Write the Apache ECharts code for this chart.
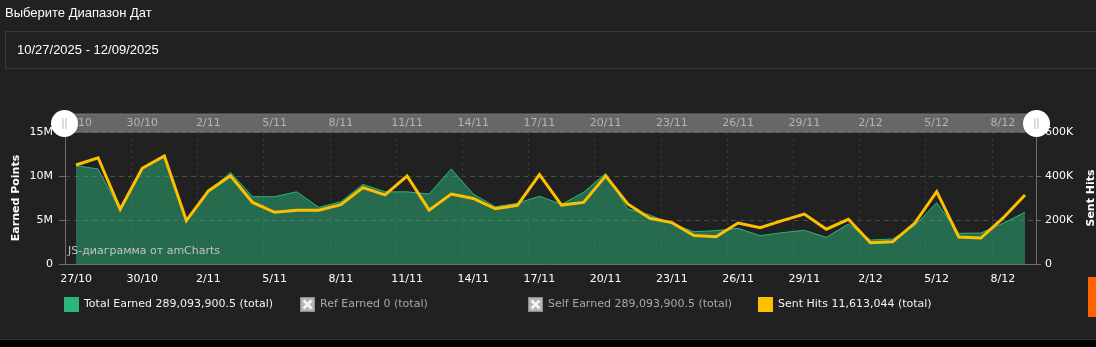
<!DOCTYPE html>
<html>
<head>
<meta charset="utf-8">
<script src="https://cdn.jsdelivr.net/npm/echarts@6/dist/echarts.min.js"></script>
<style>
  html, body { margin: 0; padding: 0; width: 1096px; height: 347px; overflow: hidden; background: #212121; }
  #chart { position: absolute; left: 0; top: 0; width: 1096px; height: 347px; }
  .picker-label { position: absolute; left: 5px; top: 4px; color: #fff; font: 13px "Liberation Sans", Arial, sans-serif; line-height: 17px; white-space: nowrap; }
  .picker-box { position: absolute; left: 5px; top: 31px; width: 1200px; height: 38px; box-sizing: border-box; border: 1px solid #3a3a3a; }
  .picker-value { position: absolute; left: 17px; top: 41px; color: #fff; font: 13px "Liberation Sans", Arial, sans-serif; line-height: 18px; white-space: nowrap; }
  .side-tab { position: absolute; left: 1088px; top: 277px; width: 8px; height: 40px; background: #ff6200; }
  .footer-bar { position: absolute; left: 0; top: 339px; width: 1096px; height: 8px; background: #000; border-top: 1px solid #2e2e2e; box-sizing: border-box; }
</style>
</head>
<body>
<div id="chart"></div>
<div class="picker-label">Выберите Диапазон Дат</div>
<div class="picker-box"></div>
<div class="picker-value">10/27/2025 - 12/09/2025</div>
<div class="side-tab"></div>
<div class="footer-bar"></div>
<script>
// Daily dates, 27 Oct – 9 Dec
const dates = [
  '27/10', '28/10', '29/10', '30/10', '31/10', '1/11', '2/11', '3/11', '4/11', '5/11',
  '6/11', '7/11', '8/11', '9/11', '10/11', '11/11', '12/11', '13/11', '14/11', '15/11',
  '16/11', '17/11', '18/11', '19/11', '20/11', '21/11', '22/11', '23/11', '24/11', '25/11',
  '26/11', '27/11', '28/11', '29/11', '30/11', '1/12', '2/12', '3/12', '4/12', '5/12',
  '6/12', '7/12', '8/12', '9/12'
];

// Earned points per day
const totalEarned = [
  11170000, 10800000, 6100000, 10800000, 12150000, 4800000, 8300000, 10400000, 7650000, 7650000,
  8200000, 6440000, 7080000, 9050000, 8200000, 8200000, 7950000, 10800000, 7950000, 6500000,
  6900000, 7700000, 6780000, 8140000, 10300000, 6250000, 5570000, 4550000, 3670000, 3790000,
  4050000, 3220000, 3560000, 3830000, 3030000, 4550000, 2730000, 2840000, 4360000, 6970000,
  3480000, 3520000, 4620000, 5870000
];
const refEarned = [
  0, 0, 0, 0, 0, 0, 0, 0, 0, 0, 0, 0, 0, 0, 0, 0, 0, 0, 0, 0, 0, 0,
  0, 0, 0, 0, 0, 0, 0, 0, 0, 0, 0, 0, 0, 0, 0, 0, 0, 0, 0, 0, 0, 0
];
const selfEarned = totalEarned;

// Hits sent per day
const sentHits = [
  450000, 483000, 249000, 435000, 491000, 197000, 332000, 401000, 280000, 235000,
  244000, 244000, 270000, 347000, 314000, 400000, 245000, 318000, 298000, 251000,
  267000, 406000, 268000, 280000, 401000, 273000, 208000, 188000, 129000, 124000,
  186000, 165000, 197000, 227000, 158000, 203000, 97000, 101000, 185000, 329000,
  123000, 118000, 208000, 314000
];

const seriesNames = ['Total Earned', 'Ref Earned', 'Self Earned', 'Sent Hits'];
const legendTotals = ['289,093,900.5', '0', '289,093,900.5', '11,613,044'];
const leftTicks = ['0', '5M', '10M', '15M'];
const rightTicks = ['0', '200K', '400K', '600K'];

const FONT = 'DejaVu Sans';
const GREEN = '#2bb57a';
const YELLOW = '#fdc000';
const AXIS_GREY = '#6e6e6e';

const crossIcon = 'image://data:image/svg+xml;charset=utf-8,' + encodeURIComponent(
  '<svg xmlns="http://www.w3.org/2000/svg" width="15" height="15" viewBox="0 0 15 15">' +
  '<rect x="0.5" y="0.5" width="14" height="14" fill="#b4b4b4" stroke="#8c8c8c"/>' +
  '<path d="M3.5 3.5 L11.5 11.5 M11.5 3.5 L3.5 11.5" stroke="#f4f4f4" stroke-width="2.6"/>' +
  '</svg>'
);

const legendLefts = [64, 300, 528, 758];
const legends = seriesNames.map((name, i) => ({
  data: [{ name: name, icon: (i === 1 || i === 2) ? crossIcon : 'rect' }],
  left: legendLefts[i],
  top: 297,
  orient: 'horizontal',
  itemWidth: 15,
  itemHeight: 15,
  padding: 0,
  inactiveColor: '#a8a8a8',
  selected: (i === 1 || i === 2) ? { [name]: false } : { [name]: true },
  textStyle: { color: '#f2f2f2', fontSize: 11, fontFamily: FONT },
  formatter: n => n + ' ' + legendTotals[seriesNames.indexOf(n)] + ' (total)'
}));

const chart = echarts.init(document.getElementById('chart'), null, { renderer: 'canvas' });

chart.setOption({
  backgroundColor: 'transparent',
  animation: false,
  grid: { left: 65, right: 60, top: 132, bottom: 83, outerBoundsMode: 'none', containLabel: false },
  legend: legends,
  xAxis: [
    {
      type: 'category',
      data: dates,
      boundaryGap: true,
      position: 'bottom',
      axisLine: { lineStyle: { color: AXIS_GREY, width: 1 } },
      axisTick: { alignWithLabel: true, interval: 2, length: 4, lineStyle: { color: AXIS_GREY } },
      axisLabel: { interval: 2, color: '#fff', fontSize: 11, fontFamily: FONT, margin: 10 },
      splitLine: { show: true, interval: 2, lineStyle: { color: '#363636', type: [3, 3] } }
    },
    {
      // date scale shown inside the scrollbar strip
      type: 'category',
      data: dates,
      boundaryGap: true,
      position: 'top',
      z: 3,
      axisLine: { show: false },
      axisTick: { alignWithLabel: true, interval: 2, length: 18, lineStyle: { color: '#555' } },
      axisLabel: { interval: 2, color: '#b4b4b4', fontSize: 11, fontFamily: FONT, margin: 8.5, verticalAlign: 'middle' },
      splitLine: { show: false }
    }
  ],
  yAxis: [
    {
      type: 'value',
      min: 0,
      max: 15000000,
      interval: 5000000,
      name: 'Earned Points',
      nameLocation: 'middle',
      nameRotate: 90,
      nameGap: 43,
      nameMoveOverlap: false,
      nameTextStyle: { color: '#fff', fontSize: 11, fontWeight: 'bold', fontFamily: FONT },
      axisLine: { show: true, lineStyle: { color: AXIS_GREY } },
      axisTick: { show: true, length: 6, lineStyle: { color: AXIS_GREY } },
      axisLabel: {
        color: '#fff', fontSize: 11, fontFamily: FONT, margin: 12,
        formatter: v => leftTicks[Math.round(v / 5000000)]
      },
      splitLine: { show: true, lineStyle: { color: '#4a4a4a', type: [5, 4] } }
    },
    {
      type: 'value',
      min: 0,
      max: 600000,
      interval: 200000,
      position: 'right',
      name: 'Sent Hits',
      nameLocation: 'middle',
      nameRotate: 90,
      nameGap: 50,
      nameTextStyle: { color: '#fff', fontSize: 11, fontWeight: 'bold', fontFamily: FONT },
      axisLine: { show: true, lineStyle: { color: AXIS_GREY } },
      axisTick: { show: true, length: 5, lineStyle: { color: AXIS_GREY } },
      axisLabel: {
        color: '#fff', fontSize: 11, fontFamily: FONT, margin: 9,
        formatter: v => rightTicks[Math.round(v / 200000)]
      },
      splitLine: { show: false }
    }
  ],
  series: [
    {
      name: 'Total Earned',
      type: 'line',
      yAxisIndex: 0,
      data: totalEarned,
      showSymbol: false,
      symbol: 'none',
      color: GREEN,
      itemStyle: { color: GREEN },
      lineStyle: { color: GREEN, width: 1 },
      areaStyle: { color: GREEN, opacity: 0.5 },
      z: 2
    },
    {
      name: 'Ref Earned',
      type: 'line',
      yAxisIndex: 0,
      data: refEarned,
      showSymbol: false,
      symbol: 'none',
      color: '#4a90d9',
      lineStyle: { width: 1 }
    },
    {
      name: 'Self Earned',
      type: 'line',
      yAxisIndex: 0,
      data: selfEarned,
      showSymbol: false,
      symbol: 'none',
      color: '#9b59b6',
      lineStyle: { width: 1 }
    },
    {
      name: 'Sent Hits',
      type: 'line',
      yAxisIndex: 1,
      data: sentHits,
      showSymbol: false,
      symbol: 'none',
      color: YELLOW,
      itemStyle: { color: YELLOW },
      lineStyle: { color: YELLOW, width: 3, join: 'miter' },
      z: 4
    }
  ],
  graphic: [
    // scrollbar strip
    { type: 'rect', z: 1, shape: { x: 65, y: 114, width: 971, height: 18 },
      style: { fill: '#676767', stroke: '#777', lineWidth: 1 } },
    // scrollbar grips
    { type: 'circle', z: 10, shape: { cx: 64.5, cy: 123.5, r: 13.5 }, style: { fill: '#fff' } },
    { type: 'line', z: 11, shape: { x1: 63, y1: 118, x2: 63, y2: 129 }, style: { stroke: '#c4c4c4', lineWidth: 1.2 } },
    { type: 'line', z: 11, shape: { x1: 66, y1: 118, x2: 66, y2: 129 }, style: { stroke: '#c4c4c4', lineWidth: 1.2 } },
    { type: 'circle', z: 10, shape: { cx: 1036.5, cy: 123.5, r: 13.5 }, style: { fill: '#fff' } },
    { type: 'line', z: 11, shape: { x1: 1035, y1: 118, x2: 1035, y2: 129 }, style: { stroke: '#c4c4c4', lineWidth: 1.2 } },
    { type: 'line', z: 11, shape: { x1: 1038, y1: 118, x2: 1038, y2: 129 }, style: { stroke: '#c4c4c4', lineWidth: 1.2 } },
    // credit line
    { type: 'text', z: 5, left: 68, top: 246,
      style: { text: 'JS-диаграмма от amCharts', fill: '#c4c4c4', fontSize: 11, fontFamily: FONT } }
  ]
});
</script>
</body>
</html>
